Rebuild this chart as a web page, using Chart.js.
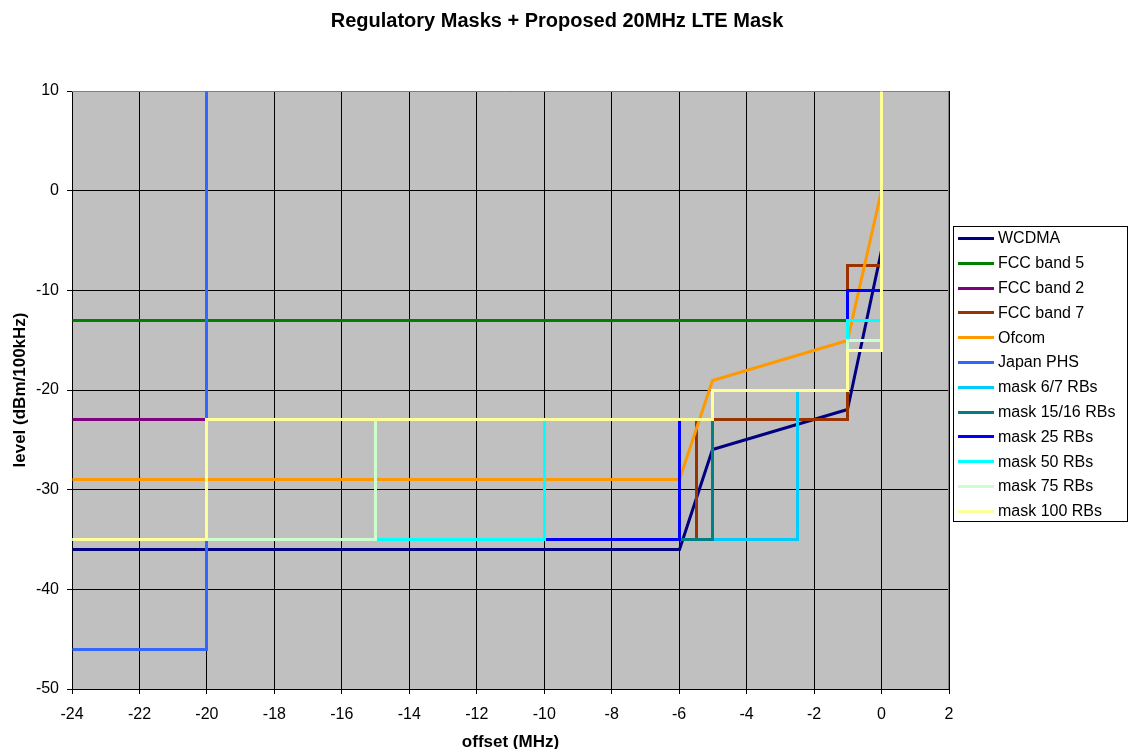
<!DOCTYPE html>
<html>
<head>
<meta charset="utf-8">
<style>
  html, body { margin: 0; padding: 0; background: #ffffff; }
  #c { display: block; }
</style>
<script src="https://cdn.jsdelivr.net/npm/chart.js@4/dist/chart.umd.min.js"></script>
</head>
<body>
<canvas id="c" width="1128" height="749"></canvas>
<script>
// Spectrum emission masks: offset from channel edge (MHz) vs level (dBm/100kHz)
const chartTitle = 'Regulatory Masks + Proposed 20MHz LTE Mask';
const xTicks = [-24, -22, -20, -18, -16, -14, -12, -10, -8, -6, -4, -2, 0, 2];
const yTicks = [-50, -40, -30, -20, -10, 0, 10];

const seriesNames = [
  'WCDMA', 'FCC band 5', 'FCC band 2', 'FCC band 7', 'Ofcom', 'Japan PHS',
  'mask 6/7 RBs', 'mask 15/16 RBs', 'mask 25 RBs', 'mask 50 RBs', 'mask 75 RBs', 'mask 100 RBs'
];
const seriesColors = [
  '#000080', '#008000', '#800080', '#993300', '#FF9900', '#3366FF',
  '#00CCFF', '#008080', '#0000FF', '#00FFFF', '#CCFFCC', '#FFFF99'
];

const wcdmaX = [-24, -6, -5, -1, 0];
const wcdmaY = [-36, -36, -26, -22, -6];

const fcc5X = [-24, -1];
const fcc5Y = [-13, -13];

const fcc2X = [-24, -20];
const fcc2Y = [-23, -23];

const fcc7X = [-5.5, -5.5, -1, -1, 0];
const fcc7Y = [-35, -23, -23, -7.5, -7.5];

const ofcomX = [-24, -6, -5, -1, 0];
const ofcomY = [-29, -29, -19, -15, 0];

const phsX = [-24, -20, -20];
const phsY = [-46, -46, 10];

const mask7X = [-24, -2.5, -2.5, -1];
const mask7Y = [-35, -35, -20, -20];

const mask16X = [-24, -5, -5, -1];
const mask16Y = [-35, -35, -20, -20];

const mask25X = [-24, -6, -6, -5, -5, -1, -1, 0];
const mask25Y = [-35, -35, -23, -23, -20, -20, -10, -10];

const mask50X = [-24, -10, -10, -5, -5, -1, -1, 0];
const mask50Y = [-35, -35, -23, -23, -20, -20, -13, -13];

const mask75X = [-24, -15, -15, -5, -5, -1, -1, 0];
const mask75Y = [-35, -35, -23, -23, -20, -20, -15, -15];

const mask100X = [-24, -20, -20, -5, -5, -1, -1, 0, 0];
const mask100Y = [-35, -35, -23, -23, -20, -20, -16, -16, 10];

const seriesX = [wcdmaX, fcc5X, fcc2X, fcc7X, ofcomX, phsX, mask7X, mask16X, mask25X, mask50X, mask75X, mask100X];
const seriesY = [wcdmaY, fcc5Y, fcc2Y, fcc7Y, ofcomY, phsY, mask7Y, mask16Y, mask25Y, mask50Y, mask75Y, mask100Y];

const FONT = '"Liberation Sans", Arial, Helvetica, sans-serif';

// later series are painted over earlier ones
const datasets = seriesNames.map((name, i) => ({
  label: name,
  data: seriesX[i].map((x, k) => ({ x: x, y: seriesY[i][k] })),
  order: seriesNames.length - 1 - i,
  borderColor: seriesColors[i],
  backgroundColor: seriesColors[i],
  borderWidth: 3,
  pointRadius: 0,
  pointHoverRadius: 0,
  showLine: true,
  tension: 0,
  fill: false
}));

// plot area fill, grey frame on the top / right edges, and the chart title
const plotFrame = {
  id: 'plotFrame',
  beforeDraw(chart) {
    const a = chart.chartArea, ctx = chart.ctx;
    ctx.save();
    ctx.fillStyle = '#C0C0C0';
    ctx.fillRect(a.left, a.top, a.right - a.left, a.bottom - a.top);
    ctx.fillStyle = '#000000';
    ctx.font = 'bold 20px ' + FONT;
    ctx.textAlign = 'center';
    ctx.textBaseline = 'middle';
    ctx.fillText(chartTitle, 557, 21);
    ctx.restore();
  },
  beforeDatasetsDraw(chart) {
    // snap vertices to pixel centres so the 3px strokes stay crisp
    chart.data.datasets.forEach((ds, i) => {
      chart.getDatasetMeta(i).data.forEach(p => {
        p.x = Math.floor(p.x) + 0.5;
        p.y = Math.floor(p.y) + 0.5;
      });
    });
    const a = chart.chartArea, ctx = chart.ctx;
    ctx.save();
    ctx.strokeStyle = '#808080';
    ctx.lineWidth = 1;
    ctx.beginPath();
    ctx.moveTo(a.left, Math.round(a.top) + 0.5);
    ctx.lineTo(Math.round(a.right) - 0.5, Math.round(a.top) + 0.5);
    ctx.lineTo(Math.round(a.right) - 0.5, a.bottom);
    ctx.stroke();
    ctx.restore();
  }
};

// boxed legend to the right of the plot
const boxLegend = {
  id: 'boxLegend',
  afterDraw(chart) {
    const ctx = chart.ctx;
    const bx = 953, by = 226, bw = 174, bh = 295;
    ctx.save();
    ctx.fillStyle = '#ffffff';
    ctx.fillRect(bx, by, bw, bh);
    ctx.strokeStyle = '#000000';
    ctx.lineWidth = 1;
    ctx.strokeRect(bx + 0.5, by + 0.5, bw, bh);
    ctx.font = '16px ' + FONT;
    ctx.textBaseline = 'middle';
    ctx.textAlign = 'left';
    chart.data.datasets.forEach((ds, i) => {
      const y = 238.5 + i * 24.8;
      ctx.strokeStyle = ds.borderColor;
      ctx.lineWidth = 3;
      ctx.beginPath();
      ctx.moveTo(958, Math.floor(y) + 0.5);
      ctx.lineTo(994, Math.floor(y) + 0.5);
      ctx.stroke();
      ctx.fillStyle = '#000000';
      ctx.fillText(ds.label, 998, y + 0.5);
    });
    ctx.restore();
  }
};

new Chart(document.getElementById('c'), {
  type: 'scatter',
  data: { datasets: datasets },
  plugins: [plotFrame, boxLegend],
  options: {
    responsive: false,
    animation: false,
    devicePixelRatio: 1,
    layout: { padding: { left: 0, right: 179, top: 91, bottom: 0 } },
    plugins: {
      legend: { display: false },
      tooltip: { enabled: false },
      title: { display: false }
    },
    scales: {
      x: {
        type: 'linear',
        min: -24,
        max: 2,
        afterFit(scale) { scale.height = 60; },
        afterBuildTicks(scale) { scale.ticks = xTicks.map(v => ({ value: v })); },
        ticks: {
          color: '#000000',
          font: { family: FONT, size: 16 },
          padding: 11,
          maxRotation: 0,
          autoSkip: false,
          callback: v => String(v)
        },
        grid: { color: '#000000', lineWidth: 1, tickLength: 5 },
        border: { color: '#000000', width: 1 },
        title: {
          display: true,
          text: 'offset (MHz)',
          color: '#000000',
          font: { family: FONT, size: 17, weight: 'bold', lineHeight: 1 },
          padding: { top: 0, bottom: -2 }
        }
      },
      y: {
        type: 'linear',
        min: -50,
        max: 10,
        afterFit(scale) { scale.width = 72; },
        afterBuildTicks(scale) { scale.ticks = yTicks.map(v => ({ value: v })); },
        ticks: {
          color: '#000000',
          font: { family: FONT, size: 16 },
          padding: 8,
          autoSkip: false,
          callback: v => String(v)
        },
        grid: { color: '#000000', lineWidth: 1, tickLength: 5 },
        border: { color: '#000000', width: 1 },
        title: {
          display: true,
          text: 'level (dBm/100kHz)',
          color: '#000000',
          font: { family: FONT, size: 17, weight: 'bold', lineHeight: 1 },
          padding: { top: 11.5, bottom: 0 }
        }
      }
    }
  }
});
</script>
</body>
</html>
